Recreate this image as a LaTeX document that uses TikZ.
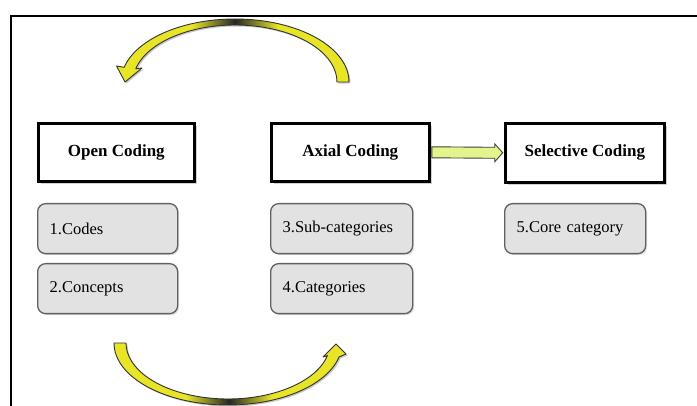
\documentclass[tikz,border=0pt]{standalone}
\usepackage{fontspec}
\setmainfont{Liberation Serif}
\usetikzlibrary{shadows,calc}
\definecolor{arcyellow}{RGB}{232,228,40}
\definecolor{arrowgreen}{RGB}{228,244,140}
\definecolor{itemgray}{RGB}{226,226,226}
\begin{document}
\begin{tikzpicture}[x=1pt,y=1pt,
  headbox/.style={draw=black, line width=2.6pt, fill=white, anchor=north west,
    inner sep=0pt, font=\bfseries\fontsize{17}{20}\selectfont,
    drop shadow={opacity=0.35, shadow xshift=2.5pt, shadow yshift=-2.5pt}},
  itembox/.style={draw=black!62, line width=1.3pt, fill=itemgray, rounded corners=8pt,
    anchor=north west, inner xsep=12pt, inner ysep=0pt, minimum height=50pt,
    align=left, font=\fontsize{16.5}{19}\selectfont,
    drop shadow={opacity=0.25, shadow xshift=1.5pt, shadow yshift=-1.5pt}},
  arcshadow/.style={fill=black, opacity=0.22},
  arcline/.style={draw=black!80, line width=0.9pt, line join=round},
  flatarrow/.style={fill=arrowgreen, draw=black!75, line width=0.9pt, line join=miter}
]
\useasboundingbox (0,0) rectangle (697,-406);
\fill[white] (0,0) rectangle (697,-406);

% frame
\draw[line width=2.5pt, line join=miter] (11,-406) -- (11,-16) -- (697,-16);

% heading boxes
\node[headbox, minimum width=156pt, minimum height=58pt] (open) at (37,-122) {Open Coding};
\node[headbox, minimum width=158pt, minimum height=58pt] (axial) at (270,-122) {Axial Coding};
\node[headbox, minimum width=159pt, minimum height=59pt] (sel) at (504,-122) {Selective Coding};

% item boxes
\node[itembox, text width=116pt] (codes) at (37,-203) {1.Codes};
\node[itembox, text width=116pt] (concepts) at (37,-263) {2.Concepts};
\node[itembox, text width=118pt] (subcat) at (270,-203) {3.Sub-categories};
\node[itembox, text width=118pt] (cat) at (270,-263) {4.Categories};
\node[itembox, text width=117pt] (core) at (504,-203) {5.Core category};

% arrow axial -> selective
\coordinate (a0) at ($(axial.east)+(1.3,0)$);
\coordinate (a1) at ($(sel.west)+(-1.3,0)$);
\filldraw[flatarrow] ($(a0)+(0,5.5)$) -- ($(a1)+(-8,5.5)$) -- ($(a1)+(-8,9)$) -- (a1)
  -- ($(a1)+(-8,-9)$) -- ($(a1)+(-8,-5.5)$) -- ($(a0)+(0,-5.5)$) -- cycle;

% top curved arrow (from above Axial back to above Open)
\fill[arcshadow, xshift=1.5pt, yshift=-1.5pt] (349,-82) arc[start angle=0, end angle=166.5, x radius=114, y radius=63]
  -- (116.5,-66) -- (125,-82) -- (142,-68) -- (135.8,-68.7)
  arc[start angle=166.5, end angle=0, x radius=102, y radius=57] -- cycle;
\begin{scope}
\clip (349,-82) arc[start angle=0, end angle=166.5, x radius=114, y radius=63]
  -- (116.5,-66) -- (125,-82) -- (142,-68) -- (135.8,-68.7)
  arc[start angle=166.5, end angle=0, x radius=102, y radius=57] -- cycle;
\fill[arcyellow] (100,0) rectangle (370,-100);
\shade[left color=arcyellow, right color=arcyellow, middle color=black!85] (192,-10) rectangle (278,-40);
\end{scope}
\draw[arcline] (349,-82) arc[start angle=0, end angle=166.5, x radius=114, y radius=63]
  -- (116.5,-66) -- (125,-82) -- (142,-68) -- (135.8,-68.7)
  arc[start angle=166.5, end angle=0, x radius=102, y radius=57] -- cycle;

% bottom curved arrow (from below Concepts to below Categories)
\fill[arcshadow, xshift=1.5pt, yshift=-1.5pt] (114,-343) arc[start angle=180, end angle=347, x radius=114, y radius=62]
  -- (346,-354) -- (336,-344) -- (323,-357) -- (327.4,-355.6)
  arc[start angle=347, end angle=180, x radius=102, y radius=56] -- cycle;
\begin{scope}
\clip (114,-343) arc[start angle=180, end angle=347, x radius=114, y radius=62]
  -- (346,-354) -- (336,-344) -- (323,-357) -- (327.4,-355.6)
  arc[start angle=347, end angle=180, x radius=102, y radius=56] -- cycle;
\fill[arcyellow] (100,-330) rectangle (370,-410);
\shade[left color=arcyellow, right color=arcyellow, middle color=black!85] (186,-385) rectangle (272,-410);
\end{scope}
\draw[arcline] (114,-343) arc[start angle=180, end angle=347, x radius=114, y radius=62]
  -- (346,-354) -- (336,-344) -- (323,-357) -- (327.4,-355.6)
  arc[start angle=347, end angle=180, x radius=102, y radius=56] -- cycle;
\end{tikzpicture}
\end{document}
